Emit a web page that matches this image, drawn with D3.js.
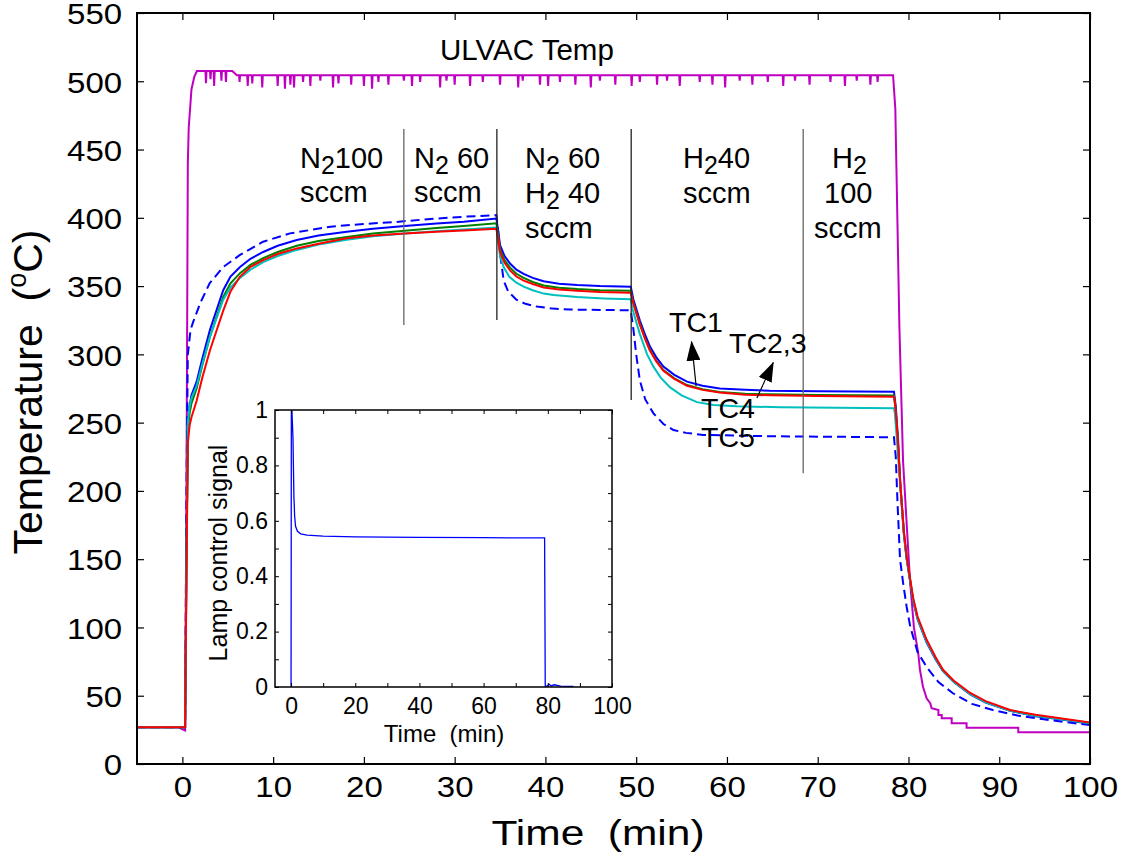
<!DOCTYPE html>
<html>
<head>
<meta charset="utf-8">
<script src="https://d3js.org/d3.v7.min.js"></script>
<style>
	body { margin: 0; background: #fff; }
	text { font-family: "Liberation Sans", Arial, sans-serif; fill: #000; }
</style>
</head>
<body>
<div id="chart"></div>
<script>

// ---- data (time in min, temperature in deg C) ----

let xTicks = [0, 10, 20, 30, 40, 50, 60, 70, 80, 90, 100],
	yTicks = [0, 50, 100, 150, 200, 250, 300, 350, 400, 450, 500, 550];

let ulvacBase = [
	[-5, 27], [-0.5, 27], [0.3, 24.5], [0.45, 200], [0.6, 440], [0.7, 466], [1.0, 494], [1.3, 503],
	[1.6, 507.5], [5.5, 507.5], [6.0, 504.5], [78.3, 504.5], [78.55, 480], [79.0, 320], [79.4, 222],
	[80.16, 135], [80.6, 100], [81.08, 81], [81.27, 68.8], [81.6, 56.6], [82.0, 48.1], [82.4, 44.5],
	[82.55, 40.8], [83.3, 39.5], [83.3, 35.9], [83.66, 35.9], [83.66, 33.5], [84.76, 33.5], [84.76, 29.8],
	[86.4, 29.8], [86.4, 26.6], [92.1, 26.6], [92.1, 23.2], [100, 23.2]
];

// downward noise spikes on the ULVAC plateau: [time, depth]
let ulvacSpikes = [
	[2.6, 9], [3.1, 6], [3.5, 11], [4.3, 7], [4.8, 8], [6.3, 5], [7.2, 8], [7.7, 6], [8.8, 9], [10.5, 8],
	[11.3, 10], [11.9, 7], [12.3, 9], [13.3, 5], [14.1, 8], [15.2, 4], [16.6, 9], [17.2, 6], [18.6, 7],
	[20.0, 8], [20.9, 10], [21.6, 5], [22.7, 7], [24.4, 4], [25.3, 8], [26.2, 5], [28.4, 9], [29.1, 4],
	[30.0, 7], [31.7, 8], [33.1, 5], [35.0, 7], [37.0, 9], [37.5, 4], [39.4, 7], [40.3, 8], [41.6, 5],
	[43.3, 7], [45.0, 9], [46.0, 4], [47.7, 7], [49.5, 8], [50.4, 5], [52.3, 7], [53.4, 4], [54.8, 8],
	[57.0, 5], [58.4, 7], [59.8, 9], [61.4, 4], [62.8, 7], [64.5, 5], [66.2, 8], [67.5, 4], [69.1, 7],
	[71.4, 5], [73.0, 8], [74.3, 4], [75.8, 7], [76.6, 5]
];

let tc1 = [
	[-5, 27], [0.3, 27], [0.45, 150], [0.6, 250], [0.8, 262], [1.0, 270], [1.57, 280], [2.2, 297],
	[3.04, 318], [4.5, 347], [5.3, 357], [6.35, 364], [7.5, 370], [8.9, 375], [10.5, 379.5], [12.6, 383.7],
	[15, 387], [18.1, 389.8], [21, 392], [24.5, 394], [28, 395.8], [31, 397.2], [34.6, 399.5],
	[34.8, 390], [35.0, 380], [35.5, 372], [36.1, 366.5], [36.8, 362], [37.6, 359], [38.6, 356],
	[39.8, 353.5], [41.5, 351.8], [43.5, 350.8], [46, 350], [49.4, 349.5],
	[49.7, 340], [50.4, 325], [51.0, 314], [51.5, 306], [52.2, 298], [53, 291], [54.2, 285], [55.6, 280],
	[57.3, 277], [59.2, 275], [62, 274], [64.7, 273.4], [70, 273], [78.4, 272.7],
	[78.6, 262], [78.85, 238], [79.1, 205], [79.5, 168], [79.8, 150], [80.2, 133], [80.5, 120], [81, 106],
	[82, 89], [83, 76.5], [83.8, 68], [85, 60], [86.8, 51], [88.5, 45], [91.2, 39], [94, 35], [96.7, 32.8], [100, 29.5]
];

let tc23 = [
	[-5, 27], [0.3, 27], [0.45, 140], [0.6, 235], [0.8, 248], [1.0, 254], [1.57, 266], [2.2, 283],
	[3.04, 303], [4.5, 332], [5.3, 346], [6.35, 357], [7.5, 364], [8.9, 369], [10.5, 373.5], [12.6, 377.6],
	[15, 381], [18.1, 385], [21, 387], [24.5, 388.6], [28, 389.8], [31, 390.8], [34.6, 392],
	[34.8, 384], [35.0, 375], [35.5, 367], [36.1, 361.5], [36.8, 357], [37.6, 354], [38.6, 351.5],
	[39.8, 349], [41.5, 347.5], [43.5, 346.5], [46, 345.7], [49.4, 345.2],
	[49.7, 337], [50.4, 322], [51.0, 311], [51.5, 303], [52.2, 295], [53, 288], [54.2, 282], [55.6, 277],
	[57.3, 274], [59.2, 272], [62, 270.5], [64.7, 270], [70, 269.5], [78.4, 269],
	[78.55, 262], [78.8, 240], [79.1, 205], [79.5, 170], [79.8, 152], [80.2, 135], [80.5, 122], [81, 108],
	[82, 91], [83, 78], [83.8, 69], [85, 61], [86.8, 52], [88.5, 46], [91.2, 39.5], [94, 36], [96.7, 33.5], [100, 30.3]
];

let tcGreen = [
	[-5, 27], [0.3, 27], [0.45, 145], [0.6, 245], [0.8, 257], [1.0, 264], [1.57, 275], [2.2, 292],
	[3.04, 313], [4.5, 342], [5.3, 352], [6.35, 359.5], [7.5, 365.5], [8.9, 370.5], [10.5, 375], [12.6, 379.5],
	[15, 383], [18.1, 386], [21, 388.5], [24.5, 390.5], [28, 392.5], [31, 394], [34.6, 396],
	[34.8, 387], [35.0, 377], [35.5, 369], [36.1, 363.5], [36.8, 359], [37.6, 356], [38.6, 353],
	[39.8, 350.5], [41.5, 348.8], [43.5, 347.8], [46, 347], [49.4, 346.6],
	[49.7, 337.5], [50.4, 322.5], [51.0, 311.5], [51.5, 303.5], [52.2, 295.5], [53, 288.5], [54.2, 282.5],
	[55.6, 277.5], [57.3, 274.5], [59.2, 272.5], [62, 271.2], [64.7, 270.7], [70, 270.2], [78.4, 269.8],
	[78.55, 262], [78.8, 240], [79.1, 205], [79.5, 169], [79.8, 151], [80.2, 134], [80.5, 121], [81, 107],
	[82, 90], [83, 77.5], [83.8, 68.5], [85, 60.5], [86.8, 51.5], [88.5, 45.5], [91.2, 39.2], [94, 35.6], [96.7, 33.2], [100, 30]
];

let tc4 = [
	[-5, 27], [0.3, 27], [0.45, 150], [0.6, 250], [0.8, 262], [1.0, 268], [1.57, 277], [2.2, 293],
	[3.04, 313], [4.5, 340], [5.3, 349], [6.35, 356], [7.5, 362], [8.9, 367.5], [10.5, 372], [12.6, 376.5],
	[15, 380.5], [18.1, 384], [21, 386.5], [24.5, 388.5], [28, 390.2], [31, 391.5], [34.6, 392.8],
	[34.8, 382], [35.0, 372], [35.4, 364], [36, 357], [36.8, 352.5], [37.6, 349.6], [38.6, 347],
	[39.8, 344.5], [40.9, 343.5], [43.5, 342], [46.4, 341], [49.4, 340.3],
	[49.6, 333], [50.0, 324], [50.4, 315], [51.2, 300], [51.9, 291], [52.7, 283], [53.7, 276], [55, 270],
	[56.7, 265], [58.5, 263], [61.1, 262], [66, 261.2], [78.4, 260.5],
	[78.5, 257], [78.75, 235], [79.1, 203], [79.5, 168], [79.8, 150.5], [80.2, 133.5], [80.5, 120.5], [81, 106.5],
	[82, 89.5], [83, 77], [83.8, 68.2], [85, 60.2], [86.8, 51.2], [88.5, 45.2], [91.2, 39], [94, 35.4], [96.7, 33], [100, 29.8]
];

let tc5 = [
	[-5, 27], [0.3, 27], [0.45, 200], [0.6, 300], [0.9, 318], [1.2, 324], [2, 338], [3, 352], [4.5, 364],
	[6.35, 372.8], [8.9, 382.5], [11.85, 388.6], [16.3, 393.5], [20, 395.5], [23.6, 397], [27, 399],
	[31, 400.8], [34.6, 402],
	[34.8, 390], [35, 374], [35.4, 354], [35.9, 346], [36.8, 340], [37.8, 337], [39.05, 335], [40.8, 333.5],
	[42.7, 332.8], [46, 332.5], [49.4, 332.3],
	[49.7, 318], [50.0, 300], [50.4, 281], [51.0, 267], [51.9, 256.8], [53, 249], [54.1, 244.6], [55.5, 242.5],
	[57.4, 241], [65, 240], [78.4, 239.3],
	[78.6, 225], [78.8, 190], [79.07, 150], [79.4, 133], [79.8, 115], [80.2, 100.5], [81, 82], [82, 71],
	[83.3, 60], [84.9, 51.8], [87, 44], [89.3, 39.5], [92, 35.5], [94.9, 32.7], [97.5, 30.5], [100, 28.6]
];

// lamp control signal (inset)
let lampSignal = [
	[0, 0], [0.1, 1.05], [0.6, 0.9], [0.9, 0.68], [1.0, 0.66], [1.1, 0.62], [1.4, 0.58], [2, 0.562],
	[3, 0.553], [5, 0.548], [10, 0.545], [20, 0.542], [40, 0.54], [60, 0.539], [79, 0.538], [79.2, 0],
	[80.5, 0.01], [81, 0.004], [82, 0.008], [84, 0.003], [88, 0.002]
];
let insetXTicks = [0, 10, 20, 30, 40, 50, 60, 70, 80, 90, 100],
	insetYTicks = [0, 0.1, 0.2, 0.3, 0.4, 0.5, 0.6, 0.7, 0.8, 0.9, 1];

// gas-flow step boundaries: [time, top, bottom, colour]
let stepLines = [
	[24.4, 465, 321.5, "#666"],
	[34.65, 465, 325.2, "#222"],
	[49.45, 465, 266.6, "#222"],
	[68.4, 465, 213, "#666"]
];

// annotation arrows: [tail t, tail v, tip t, tip v]
let arrows = [
	[56.6, 276.8, 56.1, 309.3],
	[63.3, 268.1, 65.1, 294]
];


function draw () {

	let width 	= 1132,
		height 	= 863,
		plot 	= {left: 137, right: 1090, top: 13, bottom: 764},
		inset 	= {left: 275, right: 612, top: 410, bottom: 687};

	let svg = d3.select("#chart")
		.append("svg")
			.attr("width", width)
			.attr("height", height);

	let xScale = d3.scaleLinear()
		.domain([-5, 100])
		.range([plot.left, plot.right]);

	let yScale = d3.scaleLinear()
		.domain([0, 550])
		.range([plot.bottom, plot.top]);

	svg.append("clipPath")
		.attr("id", "plotClip")
		.append("rect")
			.attr("x", plot.left)
			.attr("y", plot.top)
			.attr("width", plot.right - plot.left)
			.attr("height", plot.bottom - plot.top);

	let line = d3.line()
		.x(d => xScale(d[0]))
		.y(d => yScale(d[1]));

	// build ULVAC series with its noise spikes
	let ulvac = ulvacBase.slice();
	ulvacSpikes.forEach(function (s) {
		let base = s[0] < 5.5 ? 507.5 : 504.5;
		ulvac.push([s[0] - 0.06, base], [s[0], base - s[1]], [s[0] + 0.06, base]);
	});
	ulvac.sort((a, b) => a[0] - b[0]);

	// curves (ULVAC first so the thermocouples lie over it at the start)
	let curves = [
		{data: ulvac, color: "#c000c0", dash: null},
		{data: tc5, color: "#0000ff", dash: "9,5"},
		{data: tc1, color: "#0000ff", dash: null},
		{data: tcGreen, color: "#008000", dash: null},
		{data: tc4, color: "#00bfbf", dash: null},
		{data: tc23, color: "#ff0000", dash: null}
	];

	let curveG = svg.append("g").attr("clip-path", "url(#plotClip)");

	curves.forEach(function (c) {
		curveG.append("path")
			.datum(c.data)
			.attr("d", line)
			.attr("fill", "none")
			.attr("stroke", c.color)
			.attr("stroke-width", 2)
			.attr("stroke-dasharray", c.dash);
	});

	// step lines
	svg.selectAll(".step")
		.data(stepLines)
		.enter()
			.append("line")
				.attr("x1", d => xScale(d[0]))
				.attr("x2", d => xScale(d[0]))
				.attr("y1", d => yScale(d[1]))
				.attr("y2", d => yScale(d[2]))
				.attr("stroke", d => d[3])
				.attr("stroke-width", 1.3);

	// axes ////////////////////////////////////////////////////

	let axisFont = function (g, size) {
		g.attr("font-family", '"Liberation Sans", Arial, sans-serif')
			.attr("font-size", size);
		g.select(".domain").remove();
		g.selectAll("line").attr("stroke", "#000").attr("stroke-width", 1.2);
	};

	svg.append("g")
		.attr("transform", "translate(0," + plot.bottom + ")")
		.call(d3.axisBottom(xScale).tickValues(xTicks).tickSize(-7))
		.call(g => axisFont(g, 30))
		.selectAll("text")
			.attr("y", 33)
			.attr("dy", 0)
			.attr("transform", "scale(1.1,1)");

	svg.append("g")
		.attr("transform", "translate(0," + plot.top + ")")
		.call(d3.axisTop(xScale).tickValues(xTicks).tickSize(-7).tickFormat(""))
		.call(g => axisFont(g, 30));

	svg.append("g")
		.attr("transform", "translate(" + plot.left + ",0)")
		.call(d3.axisLeft(yScale).tickValues(yTicks).tickSize(-7))
		.call(g => axisFont(g, 30))
		.selectAll("text")
			.attr("x", -13.5)
			.attr("dy", "0.36em")
			.attr("transform", "scale(1.1,1)");

	svg.append("g")
		.attr("transform", "translate(" + plot.right + ",0)")
		.call(d3.axisRight(yScale).tickValues(yTicks).tickSize(-7).tickFormat(""))
		.call(g => axisFont(g, 30));

	svg.append("rect")
		.attr("x", plot.left)
		.attr("y", plot.top)
		.attr("width", plot.right - plot.left)
		.attr("height", plot.bottom - plot.top)
		.attr("fill", "none")
		.attr("stroke", "#000")
		.attr("stroke-width", 2);

	// axis titles
	svg.append("text")
		.attr("transform", "translate(598,845) scale(1.18,1)")
		.attr("text-anchor", "middle")
		.attr("font-size", 36)
		.text("Time\u00a0 (min)");

	let yTitle = svg.append("text")
		.attr("transform", "translate(42,392) rotate(-90)")
		.attr("text-anchor", "middle")
		.attr("font-size", 41);
	yTitle.append("tspan").text("Temperature\u00a0 (");
	yTitle.append("tspan").attr("font-size", 27).attr("dy", -16).text("o");
	yTitle.append("tspan").attr("dy", 16).text("C)");

	// annotations /////////////////////////////////////////////

	svg.append("text")
		.attr("x", 440)
		.attr("y", 60)
		.attr("font-size", 29.5)
		.text("ULVAC Temp");

	// gas labels: [x, baseline, parts]; parts are [text, isSubscript]
	let gasLabels = [
		[300, 168, [["N", 0], ["2", 1], ["100", 0]]],
		[300, 202, [["sccm", 0]]],
		[414, 168, [["N", 0], ["2", 1], [" 60", 0]]],
		[414, 202, [["sccm", 0]]],
		[525, 168, [["N", 0], ["2", 1], [" 60", 0]]],
		[525, 203, [["H", 0], ["2", 1], [" 40", 0]]],
		[525, 238, [["sccm", 0]]],
		[683, 168, [["H", 0], ["2", 1], ["40", 0]]],
		[683, 203, [["sccm", 0]]],
		[832, 168, [["H", 0], ["2", 1]]],
		[824, 203, [["100", 0]]],
		[814, 238, [["sccm", 0]]]
	];

	gasLabels.forEach(function (g) {
		let t = svg.append("text")
			.attr("x", g[0])
			.attr("y", g[1])
			.attr("font-size", 29);
		let sub = false;
		g[2].forEach(function (p) {
			let dy = 0;
			if (p[1] && !sub) { dy = 6; sub = true; }
			else if (!p[1] && sub) { dy = -6; sub = false; }
			t.append("tspan")
				.attr("dy", dy)
				.attr("font-size", p[1] ? 25 : 29)
				.text(p[0].replace(" ", "\u00a0"));
		});
	});

	// TC labels
	let tcLabels = [
		[669, 332, "TC1"],
		[729, 353, "TC2,3"],
		[701, 418, "TC4"],
		[701, 447, "TC5"]
	];

	svg.selectAll(".tcLabel")
		.data(tcLabels)
		.enter()
			.append("text")
				.attr("x", d => d[0])
				.attr("y", d => d[1])
				.attr("font-size", 28.5)
				.text(d => d[2]);

	svg.append("defs")
		.append("marker")
			.attr("id", "head")
			.attr("viewBox", "0 0 20 14")
			.attr("refX", 19)
			.attr("refY", 7)
			.attr("markerUnits", "userSpaceOnUse")
			.attr("markerWidth", 20)
			.attr("markerHeight", 14)
			.attr("orient", "auto")
			.append("path")
				.attr("d", "M0,0 L20,7 L0,14 Z")
				.attr("fill", "#000");

	svg.selectAll(".arrow")
		.data(arrows)
		.enter()
			.append("line")
				.attr("x1", d => xScale(d[0]))
				.attr("y1", d => yScale(d[1]))
				.attr("x2", d => xScale(d[2]))
				.attr("y2", d => yScale(d[3]))
				.attr("stroke", "#000")
				.attr("stroke-width", 1.2)
				.attr("marker-end", "url(#head)");

	// inset ///////////////////////////////////////////////////

	let ix = d3.scaleLinear()
		.domain([-5, 100])
		.range([inset.left, inset.right]);

	let iy = d3.scaleLinear()
		.domain([0, 1])
		.range([inset.bottom, inset.top]);

	svg.append("rect")
		.attr("x", inset.left)
		.attr("y", inset.top)
		.attr("width", inset.right - inset.left)
		.attr("height", inset.bottom - inset.top)
		.attr("fill", "#fff");

	svg.append("clipPath")
		.attr("id", "insetClip")
		.append("rect")
			.attr("x", inset.left)
			.attr("y", inset.top)
			.attr("width", inset.right - inset.left)
			.attr("height", inset.bottom - inset.top);

	svg.append("path")
		.datum(lampSignal)
		.attr("clip-path", "url(#insetClip)")
		.attr("d", d3.line().x(d => ix(d[0])).y(d => iy(d[1])))
		.attr("fill", "none")
		.attr("stroke", "#0000ff")
		.attr("stroke-width", 1.3);

	let insetFont = function (g) {
		g.attr("font-family", '"Liberation Sans", Arial, sans-serif')
			.attr("font-size", 23);
		g.select(".domain").remove();
		g.selectAll("line").attr("stroke", "#000");
	};

	svg.append("g")
		.attr("transform", "translate(0," + inset.bottom + ")")
		.call(d3.axisBottom(ix).tickValues(insetXTicks).tickSize(-4)
			.tickFormat(d => d % 20 === 0 ? d : ""))
		.call(insetFont)
		.selectAll("text")
			.attr("y", 11)
			.attr("dy", "0.71em");

	svg.append("g")
		.attr("transform", "translate(0," + inset.top + ")")
		.call(d3.axisTop(ix).tickValues(insetXTicks).tickSize(-4).tickFormat(""))
		.call(insetFont);

	svg.append("g")
		.attr("transform", "translate(" + inset.left + ",0)")
		.call(d3.axisLeft(iy).tickValues(insetYTicks).tickSize(-4)
			.tickFormat(function (d) {
				let k = Math.round(d * 10);
				if (k % 2) return "";
				return k === 0 ? "0" : (k === 10 ? "1" : d3.format(".1f")(d));
			}))
		.call(insetFont)
		.selectAll("text")
			.attr("x", -7);

	svg.append("g")
		.attr("transform", "translate(" + inset.right + ",0)")
		.call(d3.axisRight(iy).tickValues(insetYTicks).tickSize(-4).tickFormat(""))
		.call(insetFont);

	svg.append("rect")
		.attr("x", inset.left)
		.attr("y", inset.top)
		.attr("width", inset.right - inset.left)
		.attr("height", inset.bottom - inset.top)
		.attr("fill", "none")
		.attr("stroke", "#000")
		.attr("stroke-width", 1.5);

	svg.append("text")
		.attr("x", 444)
		.attr("y", 742)
		.attr("text-anchor", "middle")
		.attr("font-size", 24)
		.text("Time\u00a0 (min)");

	svg.append("text")
		.attr("transform", "translate(227,553) rotate(-90)")
		.attr("text-anchor", "middle")
		.attr("font-size", 25)
		.text("Lamp control signal");
};

draw();

</script>
</body>
</html>
